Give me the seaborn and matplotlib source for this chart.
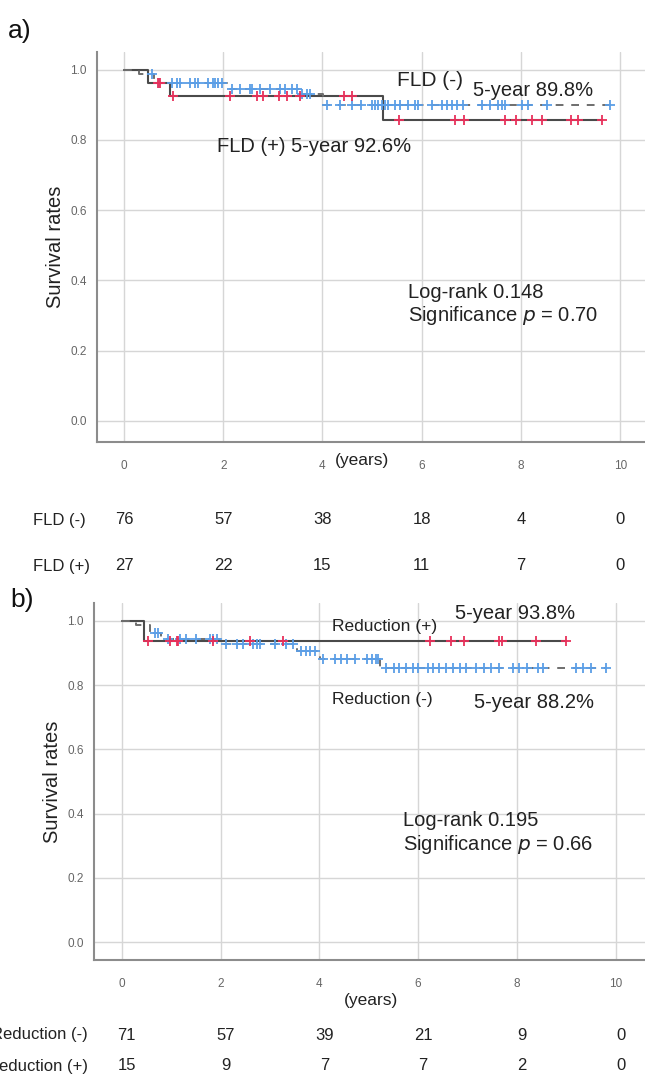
import numpy as np
import matplotlib
matplotlib.use("Agg")
import matplotlib.pyplot as plt
import matplotlib.transforms as mtransforms
import seaborn as sns

# ---- panel a: FLD ----
fld_neg_time = [0, 0.30, 0.60, 2.08, 3.55, 4.02, 9.80]
fld_neg_surv = [1.0, 0.987, 0.962, 0.946, 0.931, 0.898, 0.898]
fld_neg_cens = [0.56, 0.70, 0.97, 1.07, 1.13, 1.33, 1.43, 1.49, 1.69, 1.79, 1.84, 1.90, 1.98,
                2.18, 2.34, 2.54, 2.58, 2.74, 2.94, 3.15, 3.25, 3.39, 3.49, 3.59, 3.69, 3.75,
                4.09, 4.35, 4.60, 4.78, 5.00, 5.06, 5.12, 5.20, 5.26, 5.32, 5.46, 5.56, 5.73,
                5.87, 5.93, 6.21, 6.41, 6.51, 6.61, 6.71, 6.83, 7.22, 7.38, 7.54, 7.62, 7.68,
                8.02, 8.15, 8.53, 9.80]
fld_pos_time = [0, 0.48, 0.92, 5.22, 9.64]
fld_pos_surv = [1.0, 0.963, 0.926, 0.857, 0.857]
fld_pos_cens = [0.69, 0.73, 0.99, 2.14, 2.68, 2.80, 3.13, 3.29, 3.55, 4.44, 4.59, 5.54, 6.67,
                6.85, 7.68, 7.90, 8.22, 8.43, 9.00, 9.15, 9.63]

# ---- panel b: reduction ----
red_neg_time = [0, 0.30, 0.57, 0.80, 2.00, 3.54, 4.02, 5.22, 9.80]
red_neg_surv = [1.0, 0.986, 0.962, 0.943, 0.929, 0.906, 0.882, 0.852, 0.852]
red_neg_cens = [0.67, 0.74, 0.94, 1.18, 1.31, 1.51, 1.78, 1.85, 1.92, 2.12, 2.33, 2.46, 2.66,
                2.73, 2.79, 3.10, 3.33, 3.47, 3.62, 3.72, 3.82, 3.92, 4.07, 4.31, 4.44, 4.56,
                4.73, 4.96, 5.07, 5.14, 5.18, 5.35, 5.52, 5.62, 5.76, 5.89, 6.00, 6.20, 6.30,
                6.43, 6.57, 6.70, 6.84, 6.97, 7.17, 7.34, 7.47, 7.64, 7.91, 8.05, 8.21, 8.42,
                8.52, 9.20, 9.33, 9.50, 9.80]
red_pos_time = [0, 0.46, 9.0]
red_pos_surv = [1.0, 0.938, 0.938]
red_pos_cens = [0.54, 0.98, 1.11, 1.14, 1.85, 2.59, 3.26, 6.23, 6.66, 6.93, 7.63, 7.70, 8.39, 8.99]

# numbers at risk
risk_years = [0, 2, 4, 6, 8, 10]
fld_neg_risk = [76, 57, 38, 18, 4, 0]
fld_pos_risk = [27, 22, 15, 11, 7, 0]
red_neg_risk = [71, 57, 39, 21, 9, 0]
red_pos_risk = [15, 9, 7, 7, 2, 0]

BLUE = "#5b9ee6"
RED = "#e8305a"
LINE = "#4a4a4a"
TXT = "#222222"

sns.set_style("whitegrid")
plt.rcParams["font.family"] = ["Liberation Sans", "DejaVu Sans"]

W, H = 645, 1078
fig = plt.figure(figsize=(W / 100, H / 100), dpi=100)


def fx(px):
    return px / W


def fy(py):
    return 1 - py / H


def step_at(times, surv, pts):
    idx = np.searchsorted(times, pts, side="right") - 1
    return np.asarray(surv)[idx]


def km_panel(ax, solid, dashed):
    # solid = (time, surv, cens, color); dashed likewise
    t, s, c, col = solid
    sns.lineplot(x=t, y=s, ax=ax, drawstyle="steps-post", color=LINE, lw=1.5,
                 estimator=None, zorder=2)
    t2, s2, c2, col2 = dashed
    sns.lineplot(x=t2, y=s2, ax=ax, drawstyle="steps-post", color="#6e6e6e", lw=1.4,
                 linestyle=(0, (4, 4)), estimator=None, zorder=2)
    sns.scatterplot(x=c2, y=step_at(t2, s2, c2), ax=ax, marker="+", s=45, color=col2,
                    linewidth=1.3, zorder=3)
    sns.scatterplot(x=c, y=step_at(t, s, c), ax=ax, marker="+", s=45, color=col,
                    linewidth=1.3, zorder=4)
    ax.set_xticks(risk_years)
    ax.set_yticks([0, 0.2, 0.4, 0.6, 0.8, 1.0])
    ax.set_yticklabels(["0.0", "0.2", "0.4", "0.6", "0.8", "1.0"])
    ax.grid(True, color="#d6d6d6", lw=1.0)
    for side in ["top", "right"]:
        ax.spines[side].set_visible(False)
    for side in ["left", "bottom"]:
        ax.spines[side].set_color("#8c8c8c")
        ax.spines[side].set_linewidth(1.5)
    ax.tick_params(axis="both", labelsize=8.5, labelcolor="#666666", length=4,
                   color="#bbbbbb", width=0.8)
    ax.tick_params(axis="x", pad=9)
    ax.set_xlabel("")
    ax.set_ylabel("Survival rates", fontsize=14.5, color=TXT, labelpad=4)


# ---------- panel a ----------
ax1 = fig.add_axes([fx(97), fy(442), fx(645 - 97), fy(52) - fy(442)])
km_panel(ax1, (fld_pos_time, fld_pos_surv, fld_pos_cens, RED),
         (fld_neg_time, fld_neg_surv, fld_neg_cens, BLUE))
ax1.set_xlim(-0.544, 10.5)
ax1.set_ylim(-0.06, 1.05)

ax1.text(5.50, 0.969, "FLD (-)", fontsize=15, color=TXT, va="center")
ax1.text(7.04, 0.941, "5-year 89.8%", fontsize=14.5, color=TXT, va="center")
ax1.text(1.87, 0.781, "FLD (+) 5-year 92.6%", fontsize=14.5, color=TXT, va="center")
ax1.text(5.73, 0.365, "Log-rank 0.148", fontsize=14.5, color=TXT, va="center")
ax1.text(5.73, 0.300, "Significance $\\it{p}$ = 0.70", fontsize=14.5, color=TXT, va="center")

fig.text(fx(335), fy(461), "(years)", fontsize=12.5, color=TXT, va="center")

tr1 = mtransforms.blended_transform_factory(ax1.transData, fig.transFigure)
fig.text(fx(33), fy(520), "FLD (-)", fontsize=12, color=TXT, va="center")
fig.text(fx(33), fy(566), "FLD (+)", fontsize=12, color=TXT, va="center")
for yr, n1, n2 in zip(risk_years, fld_neg_risk, fld_pos_risk):
    ax1.text(yr, fy(520), str(n1), transform=tr1, fontsize=12, color=TXT,
             ha="center", va="center")
    ax1.text(yr, fy(566), str(n2), transform=tr1, fontsize=12, color=TXT,
             ha="center", va="center")

fig.text(fx(8), fy(31), "a)", fontsize=19, color="#111111", va="center")

# ---------- panel b ----------
ax2 = fig.add_axes([fx(94), fy(960), fx(645 - 94), fy(603) - fy(960)])
km_panel(ax2, (red_pos_time, red_pos_surv, red_pos_cens, RED),
         (red_neg_time, red_neg_surv, red_neg_cens, BLUE))
ax2.set_xlim(-0.56, 10.59)
ax2.set_ylim(-0.055, 1.055)

ax2.text(4.25, 0.982, "Reduction (+)", fontsize=12.5, color=TXT, va="center")
ax2.text(6.75, 1.022, "5-year 93.8%", fontsize=14.5, color=TXT, va="center")
ax2.text(4.25, 0.754, "Reduction (-)", fontsize=12.5, color=TXT, va="center")
ax2.text(7.12, 0.745, "5-year 88.2%", fontsize=14.5, color=TXT, va="center")
ax2.text(5.70, 0.380, "Log-rank 0.195", fontsize=14.5, color=TXT, va="center")
ax2.text(5.70, 0.303, "Significance $\\it{p}$ = 0.66", fontsize=14.5, color=TXT, va="center")

fig.text(fx(371), fy(1001), "(years)", fontsize=12.5, color=TXT, ha="center", va="center")

# the row labels are cropped at the left edge in the original figure
tr2 = mtransforms.blended_transform_factory(ax2.transData, fig.transFigure)
fig.text(fx(88), fy(1035), "Reduction (-)", fontsize=12, color=TXT, ha="right", va="center")
fig.text(fx(88), fy(1066), "Reduction (+)", fontsize=12, color=TXT, ha="right", va="center")
for yr, n1, n2 in zip(risk_years, red_neg_risk, red_pos_risk):
    ax2.text(yr + 0.1, fy(1035), str(n1), transform=tr2, fontsize=12, color=TXT,
             ha="center", va="center")
    ax2.text(yr + 0.1, fy(1066), str(n2), transform=tr2, fontsize=12, color=TXT,
             ha="center", va="center")

fig.text(fx(10), fy(600), "b)", fontsize=19, color="#111111", va="center")

fig.savefig("out.png", dpi=100)
